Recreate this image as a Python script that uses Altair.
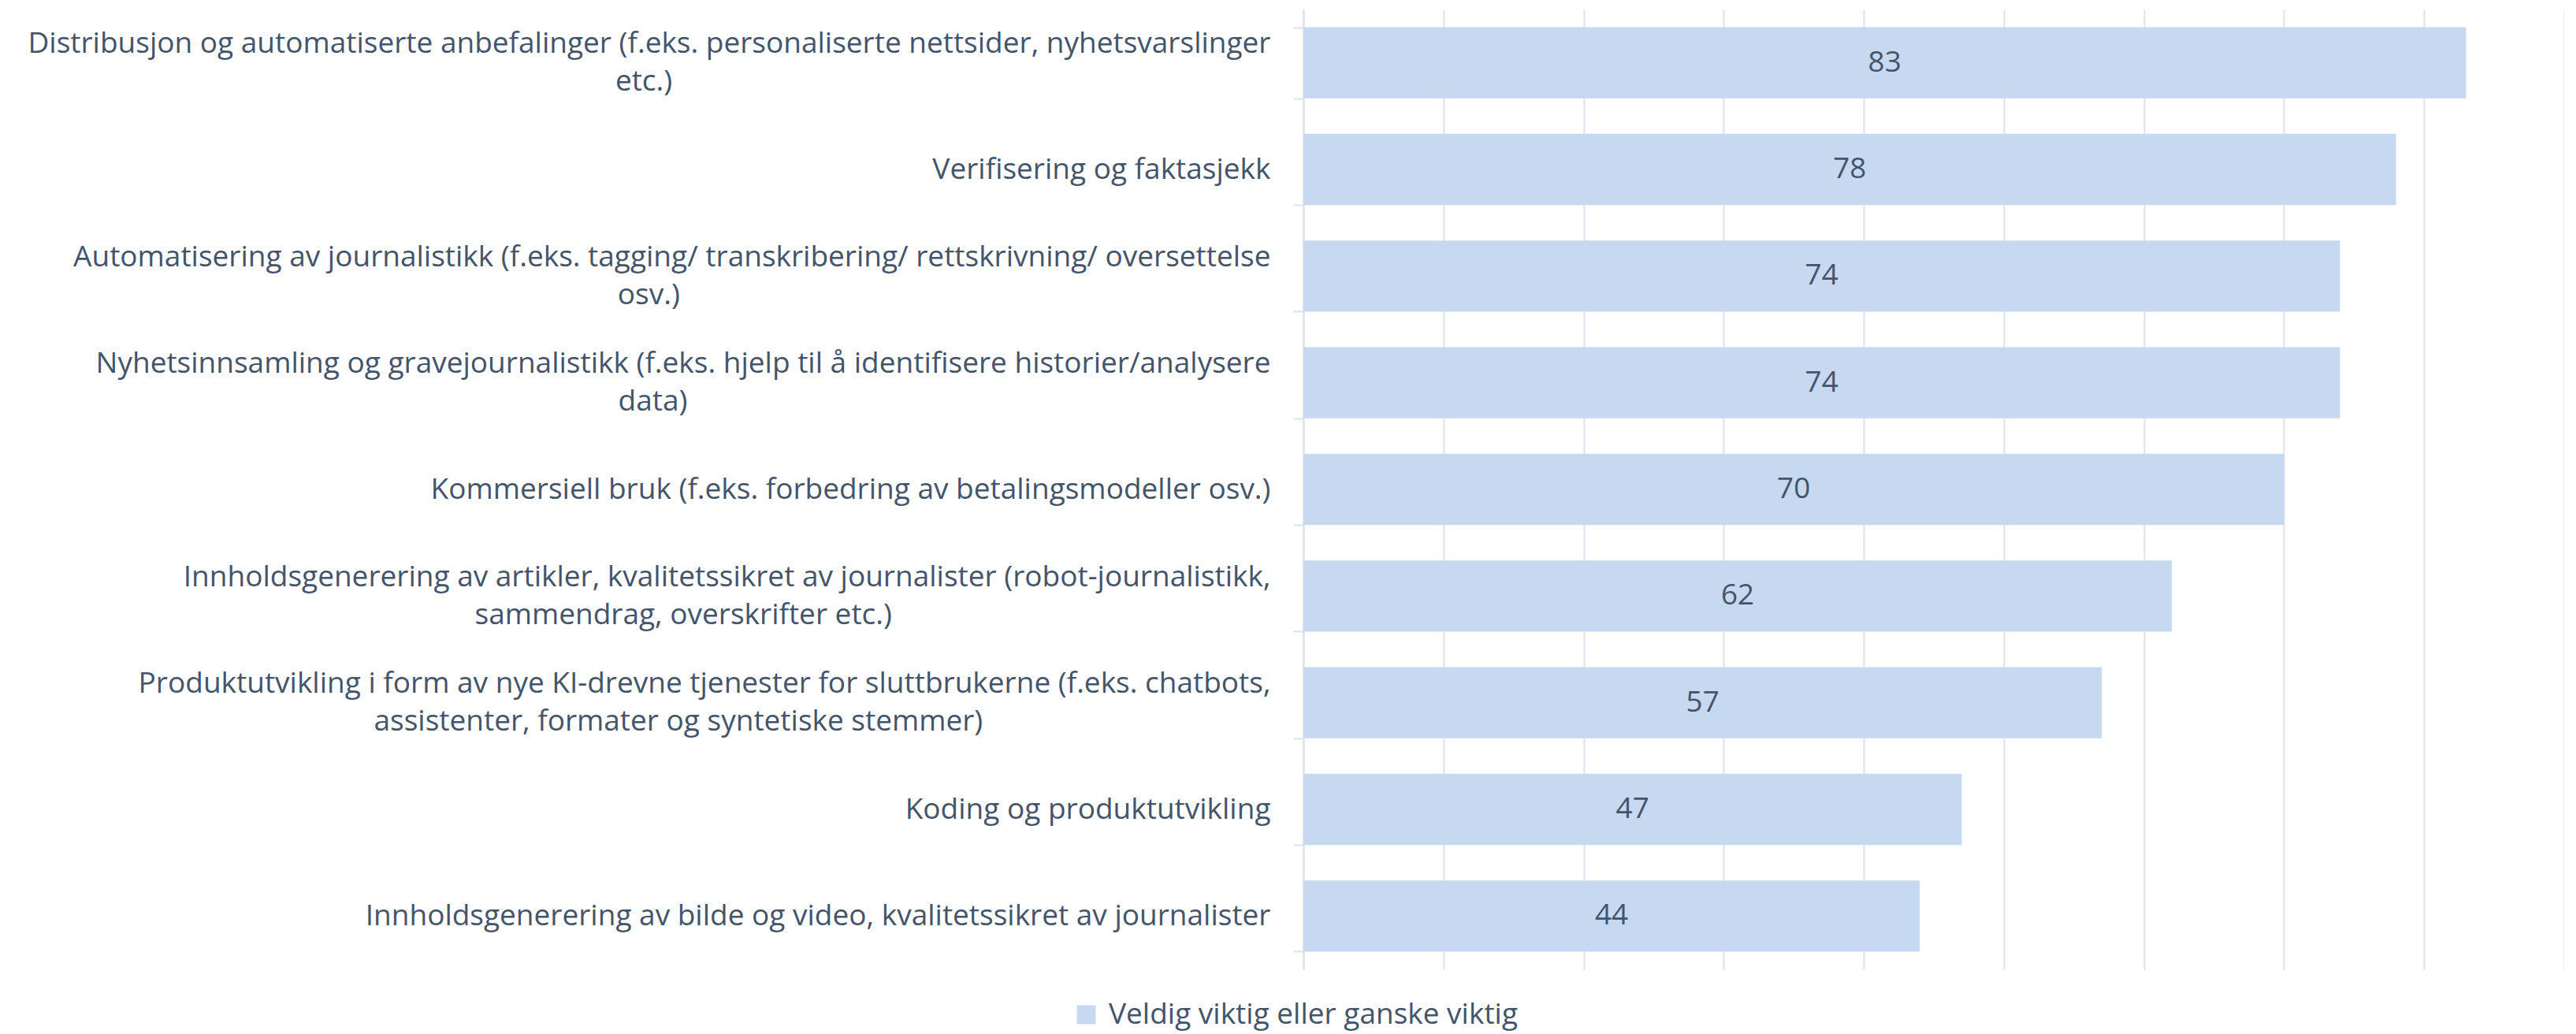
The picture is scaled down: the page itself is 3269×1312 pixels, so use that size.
import altair as alt
import pandas as pd

# Category labels (top to bottom); "|" marks a line break
categories = [
    "Distribusjon og automatiserte anbefalinger (f.eks. personaliserte nettsider, nyhetsvarslinger|etc.)",
    "Verifisering og faktasjekk",
    "Automatisering av journalistikk (f.eks. tagging/ transkribering/ rettskrivning/ oversettelse|osv.)",
    "Nyhetsinnsamling og gravejournalistikk (f.eks. hjelp til å identifisere historier/analysere|data)",
    "Kommersiell bruk (f.eks. forbedring av betalingsmodeller osv.)",
    "Innholdsgenerering av artikler, kvalitetssikret av journalister (robot-journalistikk,|sammendrag, overskrifter etc.)",
    "Produktutvikling i form av nye KI-drevne tjenester for sluttbrukerne (f.eks. chatbots,|assistenter, formater og syntetiske stemmer)",
    "Koding og produktutvikling",
    "Innholdsgenerering av bilde og video, kvalitetssikret av journalister",
]
values = [83, 78, 74, 74, 70, 62, 57, 47, 44]
series_name = "Veldig viktig eller ganske viktig"
x_ticks = [0, 10, 20, 30, 40, 50, 60, 70, 80, 90]

df = pd.DataFrame({"category": categories, "value": values, "series": series_name})

FONT = "Open Sans"
TEXT = "#44546A"
BAR = "#C7D9F0"
GRID = "#DCE1EA"
FS = 37
LH = 48

# split on "|" ; second line padded with no-break spaces (closed by a word joiner)
# so that it sits roughly centred under the first line
l1 = "split(datum.label,'|')[0]"
l2 = "split(datum.label,'|')[1]"
label_expr = (
    "length(split(datum.label,'|'))>1 ? "
    f"[{l1}, pad({l2}, length({l2}) + round((length({l1}) - length({l2})) * 0.9), '\u00a0', 'right') + '\u2060']"
    " : datum.label"
)

y_enc = alt.Y(
    "category:N",
    sort=categories,
    title=None,
    scale=alt.Scale(paddingInner=0.333, paddingOuter=0.1665),
    axis=alt.Axis(
        labelExpr=label_expr,
        labelFont=FONT,
        labelFontSize=FS,
        labelColor=TEXT,
        labelLimit=1640,
        labelPadding=29,
        labelLineHeight=LH,
        labelBaseline="middle",
        labelOffset={"condition": {"test": "indexof(datum.label,'|')>=0", "value": -LH / 2}, "value": 0},
        tickBand="extent",
        tickSize=13,
        tickColor=GRID,
        tickWidth=2,
        domainColor=GRID,
        domainWidth=2,
        grid=False,
    ),
)

x_enc = alt.X(
    "value:Q",
    title=None,
    scale=alt.Scale(domain=[0, 90], nice=False, zero=True),
    axis=alt.Axis(
        values=x_ticks,
        labels=False,
        ticks=False,
        domain=False,
        grid=True,
        gridColor=GRID,
        gridWidth=2,
    ),
)

bars = alt.Chart(df).mark_bar(color=BAR).encode(
    y=y_enc,
    x=x_enc,
    color=alt.Color(
        "series:N",
        scale=alt.Scale(range=[BAR]),
        legend=alt.Legend(
            title=None,
            orient="none",
            legendX=-294,
            legendY=1257,
            symbolType="square",
            symbolSize=576,
            symbolStrokeWidth=0,
            labelFont=FONT,
            labelFontSize=37,
            labelColor=TEXT,
            labelOffset=10,
            labelLimit=1000,
            padding=0,
        ),
    ),
)

labels = (
    alt.Chart(df)
    .transform_calculate(mid="datum.value / 2")
    .mark_text(font=FONT, fontSize=FS, color=TEXT, align="center", baseline="middle")
    .encode(
        y=alt.Y("category:N", sort=categories),
        x=alt.X("mid:Q"),
        text=alt.Text("value:Q"),
    )
)

chart = (
    alt.layer(bars, labels)
    .properties(
        width=1600,
        height=1218,
        autosize=alt.AutoSizeParams(type="none"),
        padding={"left": 1646, "top": 4, "right": 0, "bottom": 82},
    )
    .configure_view(stroke=None)
)

chart.save("out.html", embed_options={"renderer": "svg", "actions": False})
